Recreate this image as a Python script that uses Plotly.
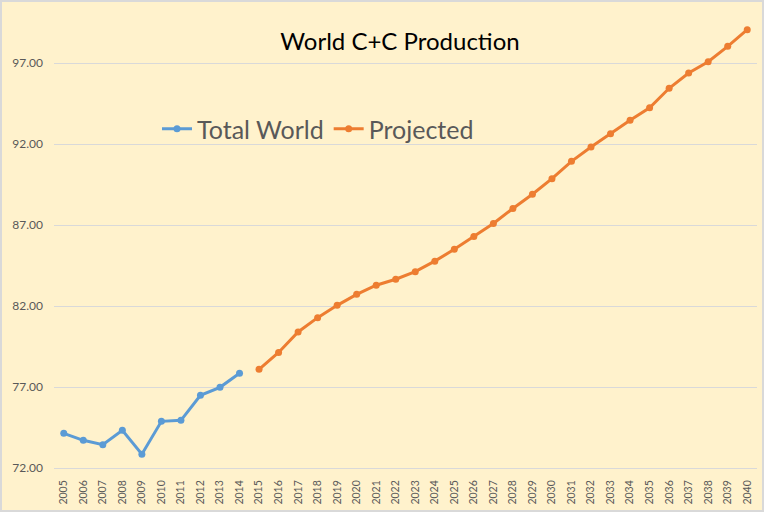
import plotly.graph_objects as go

years_hist = list(range(2005, 2015))
total_world = [74.14, 73.71, 73.44, 74.33, 72.85, 74.88, 74.94, 76.49, 76.98, 77.85]

years_proj = list(range(2015, 2041))
projected = [78.09, 79.13, 80.40, 81.28, 82.04, 82.72, 83.28, 83.65, 84.12, 84.77,
             85.50, 86.29, 87.09, 88.02, 88.90, 89.86, 90.93, 91.81, 92.64, 93.46,
             94.24, 95.44, 96.38, 97.08, 98.03, 99.06]

all_years = list(range(2005, 2041))
y_ticks = [72, 77, 82, 87, 92, 97]

W, H = 764, 512
ml, mr, mt, mb = 54, 7, 10, 44
pw, ph = W - ml - mr, H - mt - mb
px_per_unit = 16.2
ymax = 72 + ph / px_per_unit

fig = go.Figure()
fig.add_trace(go.Scatter(
    x=years_hist, y=total_world, name="Total World", mode="lines+markers",
    line=dict(color="#5B9BD5", width=3), marker=dict(size=7, color="#5B9BD5")))
fig.add_trace(go.Scatter(
    x=years_proj, y=projected, name="Projected", mode="lines+markers",
    line=dict(color="#ED7D31", width=3), marker=dict(size=7, color="#ED7D31")))

fig.update_layout(
    width=W, height=H,
    margin=dict(l=ml, r=mr, t=mt, b=mb),
    paper_bgcolor="#FFF2CC", plot_bgcolor="#FFF2CC",
    title=dict(text="World C+C Production", x=400 / W, xanchor="center",
               y=1 - 42 / H, yanchor="middle",
               font=dict(family="Lato", size=24, color="#000000")),
    legend=dict(orientation="h", x=(157 - ml) / pw, xanchor="left",
                y=(H - mb - 129) / ph, yanchor="middle",
                bgcolor="rgba(0,0,0,0)",
                font=dict(family="Lato", size=25, color="#595959"),
                itemwidth=30, tracegroupgap=0),
    showlegend=True,
    xaxis=dict(range=[2004.5, 2040.5], tickmode="array", tickvals=all_years,
               ticktext=[str(y) for y in all_years], tickangle=-90,
               showgrid=False, zeroline=False, showline=True,
               linecolor="#D9D9D9", linewidth=1, ticks="",
               ticklabelstandoff=7,
               tickfont=dict(family="Lato", size=10.5, color="#595959")),
    yaxis=dict(range=[72, ymax], tickmode="array", tickvals=y_ticks,
               ticktext=[f"{v:.2f}" for v in y_ticks],
               showgrid=True, gridcolor="#D9D9D9", gridwidth=1,
               zeroline=False, showline=False, ticks="",
               ticklabelstandoff=10,
               tickfont=dict(family="Lato", size=12, color="#595959")),
)

fig.add_shape(type="rect", xref="paper", yref="paper",
              x0=-(ml - 1) / pw, x1=1 + (mr - 1) / pw,
              y0=-(mb - 1) / ph, y1=1 + (mt - 1) / ph,
              line=dict(color="#D9D9D9", width=2), fillcolor="rgba(0,0,0,0)",
              layer="below")

fig.write_html("out.html", config={"displayModeBar": False},
               post_script="document.body.style.margin='0';document.body.style.padding='0';")
